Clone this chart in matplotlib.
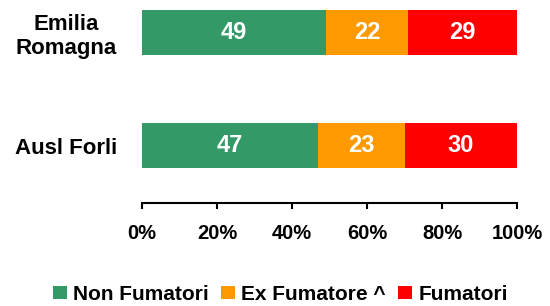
import numpy as np
import matplotlib
matplotlib.use("Agg")
import matplotlib.pyplot as plt

plt.rcParams['font.family'] = ['Liberation Sans', 'DejaVu Sans']
plt.rcParams['font.weight'] = 'bold'

categories = ["Ausl Forli", "Emilia\nRomagna"]
series = ["Non Fumatori", "Ex Fumatore ^", "Fumatori"]
non_fumatori = [47, 49]
ex_fumatore = [23, 22]
fumatori = [30, 29]
colors = ["#339966", "#FF9900", "#FF0000"]

fig = plt.figure(figsize=(5.5, 3.06), dpi=100)
ax = fig.add_axes([0.2582, 0.335, 0.6818, 0.665])

y = np.arange(len(categories))
left = np.zeros(len(categories))
for name, vals, c in zip(series, [non_fumatori, ex_fumatore, fumatori], colors):
    vals = np.array(vals, dtype=float)
    bars = ax.barh(y, vals, left=left, height=0.40, color=c, label=name)
    for b, v in zip(bars, vals):
        ax.text(b.get_x() + b.get_width() / 2, b.get_y() + b.get_height() / 2,
                f"{v:.0f}", ha='center', va='center', color='white',
                fontsize=17, fontweight='bold')
    left += vals

ax.set_xlim(0, 100)
ax.set_ylim(-0.512, 1.285)
ax.set_xticks(np.arange(0, 101, 20))
ax.set_xticklabels([f"{t}%" for t in range(0, 101, 20)], fontsize=14.5, fontweight='bold')
ax.set_yticks(y)
ax.set_yticklabels(categories, fontsize=16, fontweight='bold',
                   multialignment='center', linespacing=1.2)
ax.tick_params(axis='y', length=0, pad=18)
ax.tick_params(axis='x', direction='out', length=4.5, width=1.5, pad=10)
for s in ['top', 'right', 'left']:
    ax.spines[s].set_visible(False)
ax.spines['bottom'].set_linewidth(1.5)

fig.legend(loc='center', bbox_to_anchor=(0.51, 0.038), ncol=3, frameon=False,
           handlelength=0.65, handleheight=0.62, handletextpad=0.3,
           columnspacing=0.6, prop={'weight': 'bold', 'size': 15})

fig.savefig("out.png", dpi=100)
